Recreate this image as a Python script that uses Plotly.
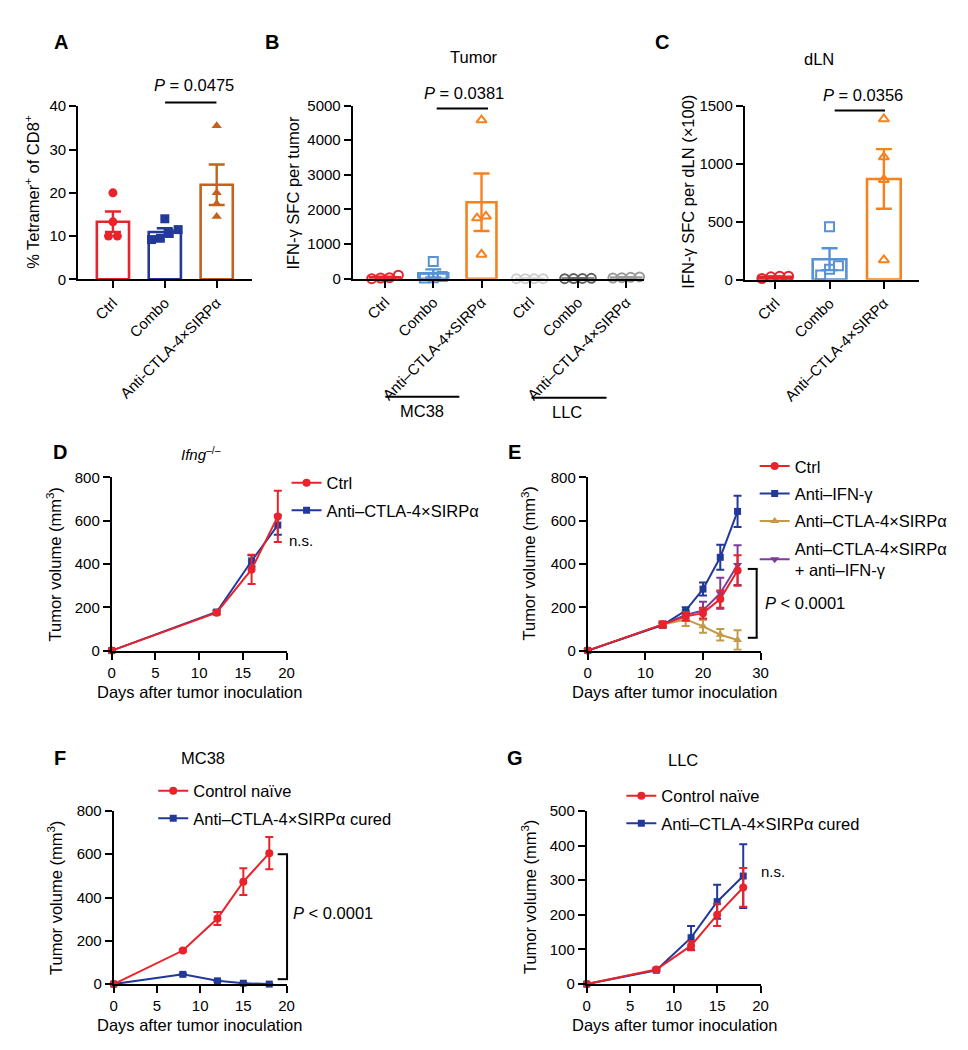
import numpy as np
import plotly.graph_objects as go

W, H = 968, 1050

# ---------------- data ----------------
a_categories = ["Ctrl", "Combo", "Anti-CTLA-4×SIRPα"]
a_ctrl = [20.0, 13.3, 10.0, 10.0]
a_combo = [14.0, 11.5, 10.6, 9.5, 9.2]
a_anti = [35.5, 20.0, 17.5, 14.5]

b_categories = ["Ctrl", "Combo", "Anti–CTLA-4×SIRPα", "Ctrl", "Combo", "Anti–CTLA-4×SIRPα"]
b_mc38_ctrl = [0, 100, 30, 20]
b_mc38_combo = [500, 60, 20, 30]
b_mc38_anti = [4580, 1800, 1750, 700]
b_llc_ctrl = [0, 0, 0, 0]
b_llc_combo = [10, 5, 0, 8]
b_llc_anti = [30, 50, 20, 40]

c_categories = ["Ctrl", "Combo", "Anti–CTLA-4×SIRPα"]
c_ctrl = [10, 30, 25, 30]
c_combo = [455, 120, 90, 40]
c_anti = [1384, 1056, 861, 170]

d_days = [0, 12, 16, 19]
d_ctrl_mean = [0, 175, 375, 620]
d_ctrl_sem = [0, 8, 68, 118]
d_anti_mean = [0, 178, 414, 580]
d_anti_sem = [0, 8, 26, 45]

e_days = [0, 13, 17, 20, 23, 26]
e_ctrl_mean = [0, 120, 158, 173, 238, 370]
e_ctrl_sem = [0, 15, 20, 25, 40, 70]
e_ifng_mean = [0, 118, 185, 284, 431, 643]
e_ifng_sem = [0, 10, 15, 30, 58, 72]
e_anti_mean = [0, 120, 144, 112, 73, 49]
e_anti_sem = [0, 10, 30, 30, 27, 45]
e_combo_mean = [0, 120, 165, 185, 265, 395]
e_combo_sem = [0, 10, 20, 40, 72, 92]

f_days = [0, 8, 12, 15, 18]
f_naive_mean = [0, 155, 303, 473, 605]
f_naive_sem = [0, 6, 30, 62, 74]
f_cured_mean = [0, 45, 15, 4, 0]
f_cured_sem = [0, 4, 3, 2, 1]

g_days = [0, 8, 12, 15, 18]
g_naive_mean = [0, 42, 111, 200, 279]
g_naive_sem = [0, 4, 13, 32, 56]
g_cured_mean = [0, 40, 134, 238, 312]
g_cured_sem = [0, 4, 34, 49, 92]

# ---------------- style ----------------
FONT = "Liberation Sans, Arial, Helvetica, sans-serif"
RED = "#e8232b"
NAVY = "#22399a"
BROWN = "#c4611f"
LBLUE = "#5592d6"
ORANGE = "#f5821f"
LGRAY = "#cfcfcf"
DGRAY = "#606060"
MGRAY = "#9a9a9a"
GOLD = "#c49a4a"
PURPLE = "#7d3c98"


def fx(px):
    return px / W


def fy(py):
    return 1 - py / H


# panel boxes in pixels: (x0, x1, ytop, ybottom)
BOX = {
    "A": (67, 243, 90.7, 266.7),
    "B": (345, 640, 90, 266),
    "C": (742, 918, 90, 267),
    "D": (101, 278, 468, 644),
    "E": (583, 758, 468, 644),
    "F": (103, 278, 807, 983),
    "G": (582, 758, 807, 983),
}
AX = {"A": "", "B": "2", "C": "3", "D": "4", "E": "5", "F": "6", "G": "7"}
XR = {"A": [-0.67, 2.68], "B": [-0.67, 5.37], "C": [-0.56, 2.64],
      "D": [0, 20], "E": [0, 30], "F": [0, 20], "G": [0, 20]}
YR = {"A": [0, 40], "B": [0, 5000], "C": [0, 1500],
      "D": [0, 800], "E": [0, 800], "F": [0, 800], "G": [0, 500]}


def spread(values, panel, d_px=9.0):
    x0, x1, yt, yb = BOX[panel]
    px_y = (yb - yt) / (YR[panel][1] - YR[panel][0])
    px_x = (x1 - x0) / (XR[panel][1] - XR[panel][0])
    vals = np.asarray(values, float)
    order = np.argsort(vals, kind="stable")
    offs = np.zeros(len(vals))
    clusters, cur = [], [order[0]]
    for i in order[1:]:
        if (vals[i] - vals[cur[-1]]) * px_y < d_px:
            cur.append(i)
        else:
            clusters.append(cur)
            cur = [i]
    clusters.append(cur)
    for cl in clusters:
        n = len(cl)
        for k, i in enumerate(cl):
            offs[i] = (k - (n - 1) / 2) * d_px / px_x
    return offs


fig = go.Figure()


def add_bar_group(panel, idx, pts, color, symbol, filled, width=0.62):
    ax = AX[panel]
    pts = np.asarray(pts, float)
    mean = pts.mean()
    sem = pts.std(ddof=1) / np.sqrt(len(pts))
    fig.add_trace(go.Bar(
        x=[idx], y=[mean], width=width,
        marker=dict(color="rgba(0,0,0,0)", line=dict(color=color, width=2.6)),
        error_y=dict(type="data", array=[sem], color=color, thickness=2.4, width=8),
        xaxis="x" + ax, yaxis="y" + ax, showlegend=False, hoverinfo="skip"))
    offs = spread(pts, panel)
    if filled:
        mk = dict(symbol=symbol, size=9, color=color)
    else:
        mk = dict(symbol=symbol + "-open", size=9, color=color, line=dict(color=color, width=2))
    fig.add_trace(go.Scatter(
        x=idx + offs, y=pts, mode="markers", marker=mk, cliponaxis=False,
        xaxis="x" + ax, yaxis="y" + ax, showlegend=False, hoverinfo="skip"))


# Panel A
for i, (pts, col, sym) in enumerate([(a_ctrl, RED, "circle"), (a_combo, NAVY, "square"),
                                     (a_anti, BROWN, "triangle-up")]):
    add_bar_group("A", i, pts, col, sym, True)

# Panel B
for i, (pts, col, sym) in enumerate([(b_mc38_ctrl, RED, "circle"), (b_mc38_combo, LBLUE, "square"),
                                     (b_mc38_anti, ORANGE, "triangle-up"), (b_llc_ctrl, LGRAY, "circle"),
                                     (b_llc_combo, DGRAY, "circle"), (b_llc_anti, MGRAY, "circle")]):
    add_bar_group("B", i, pts, col, sym, False)

# Panel C
for i, (pts, col, sym) in enumerate([(c_ctrl, RED, "circle"), (c_combo, LBLUE, "square"),
                                     (c_anti, ORANGE, "triangle-up")]):
    add_bar_group("C", i, pts, col, sym, False)


def add_line(panel, days, mean, sem, color, symbol, name, legend, rank, size=8):
    ax = AX[panel]
    fig.add_trace(go.Scatter(
        x=days, y=mean, name=name, mode="lines+markers",
        line=dict(color=color, width=2),
        marker=dict(symbol=symbol, size=size, color=color),
        error_y=dict(type="data", array=sem, color=color, thickness=2, width=4),
        xaxis="x" + ax, yaxis="y" + ax, legend=legend, legendrank=rank,
        legendgroup=legend + str(rank),
        cliponaxis=False, hoverinfo="skip"))


add_line("D", d_days, d_anti_mean, d_anti_sem, NAVY, "square", "Anti–CTLA-4×SIRPα", "legend", 2, 7)
add_line("D", d_days, d_ctrl_mean, d_ctrl_sem, RED, "circle", "Ctrl", "legend", 1)

add_line("E", e_days, e_combo_mean, e_combo_sem, PURPLE, "triangle-down",
         "Anti–CTLA-4×SIRPα<br>+ anti–IFN-γ", "legend2", 4)
add_line("E", e_days, e_anti_mean, e_anti_sem, GOLD, "triangle-up", "Anti–CTLA-4×SIRPα", "legend2", 3)
add_line("E", e_days, e_ifng_mean, e_ifng_sem, NAVY, "square", "Anti–IFN-γ", "legend2", 2, 7)
add_line("E", e_days, e_ctrl_mean, e_ctrl_sem, RED, "circle", "Ctrl", "legend2", 1)

add_line("F", f_days, f_cured_mean, f_cured_sem, NAVY, "square", "Anti–CTLA-4×SIRPα cured", "legend3", 2, 7)
add_line("F", f_days, f_naive_mean, f_naive_sem, RED, "circle", "Control naïve", "legend3", 1)

add_line("G", g_days, g_cured_mean, g_cured_sem, NAVY, "square", "Anti–CTLA-4×SIRPα cured", "legend4", 2, 7)
add_line("G", g_days, g_naive_mean, g_naive_sem, RED, "circle", "Control naïve", "legend4", 1)

# ---------------- axes ----------------
layout = dict(width=W, height=H, margin=dict(l=0, r=0, t=0, b=0),
              paper_bgcolor="white", plot_bgcolor="white", barmode="overlay",
              font=dict(family=FONT, color="black", size=15))


def base_axis(**kw):
    d = dict(showline=True, linecolor="black", linewidth=2, ticks="outside", ticklen=7,
             tickwidth=2, tickcolor="black", showgrid=False, zeroline=False,
             tickfont=dict(size=15, color="black", family=FONT), fixedrange=True)
    d.update(kw)
    return d


YDT = {"A": 10, "B": 1000, "C": 500, "D": 200, "E": 200, "F": 200, "G": 100}
XDT = {"D": 5, "E": 10, "F": 5, "G": 5}
CATS = {"A": a_categories, "B": b_categories, "C": c_categories}

for p, ax in AX.items():
    x0, x1, yt, yb = BOX[p]
    xk = "xaxis" + ax
    yk = "yaxis" + ax
    if p in CATS:
        xa = base_axis(domain=[fx(x0), fx(x1)], range=XR[p], anchor="y" + ax,
                       tickmode="array", tickvals=list(range(len(CATS[p]))), ticktext=CATS[p],
                       tickangle=-45, tickfont=dict(size=15, color="black", family=FONT))
    else:
        xa = base_axis(domain=[fx(x0), fx(x1)], range=XR[p], anchor="y" + ax,
                       tickmode="linear", tick0=0, dtick=XDT[p])
    ya = base_axis(domain=[fy(yb), fy(yt)], range=YR[p], anchor="x" + ax,
                   tickmode="linear", tick0=0, dtick=YDT[p])
    layout[xk] = xa
    layout[yk] = ya


def leg(x, y):
    return dict(x=fx(x), y=fy(y), xanchor="left", yanchor="top", bgcolor="rgba(0,0,0,0)",
                font=dict(size=16.5, color="black", family=FONT), itemwidth=30,
                traceorder="grouped", tracegroupgap=3,
                itemclick=False, itemdoubleclick=False)


layout["legend"] = leg(278, 456)
layout["legend2"] = leg(752, 439)
layout["legend3"] = leg(143, 769)
layout["legend4"] = leg(617, 774)

# ---------------- annotations & shapes ----------------
ann = []


def txt(x, y, s, size=16, xanchor="center", angle=0):
    ann.append(dict(x=fx(x), y=fy(y), xref="paper", yref="paper", text=s, showarrow=False,
                    xanchor=xanchor, yanchor="middle", textangle=angle,
                    font=dict(size=size, color="black", family=FONT)))


for lab, (x, y) in {"A": (50, 25), "B": (263, 25), "C": (658, 25), "D": (49, 442),
                    "E": (509, 442), "F": (49, 753), "G": (509, 753)}.items():
    txt(x, y, "<b>%s</b>" % lab, size=20)

txt(20, 178, "% Tetramer<sup>+</sup> of CD8<sup>+</sup>", size=16.5, angle=-90)
txt(285, 178, "IFN-γ SFC per tumor", size=16.5, angle=-90)
txt(685, 178, "IFN-γ SFC per dLN (×100)", size=16.5, angle=-90)
for x, y in [(43, 556), (523, 556), (43, 895), (523, 895)]:
    txt(x, y, "Tumor volume (mm<sup>3</sup>)", size=16.5, angle=-90)
for x, y in [(190, 686), (671, 686), (190, 1025), (671, 1025)]:
    txt(x, y, "Days after tumor inoculation", size=16.5)

txt(468, 41, "Tumor", size=16.5)
txt(817, 43, "dLN", size=16.5)
txt(193, 753, "MC38", size=16.5)
txt(679, 755, "LLC", size=16.5)
txt(191, 444, "<i>Ifng</i><sup>–/–</sup>", size=15)

txt(184, 69, "<i>P</i> = 0.0475", size=16.5)
txt(458, 77, "<i>P</i> = 0.0381", size=16.5)
txt(862, 79, "<i>P</i> = 0.0356", size=16.5)
txt(760, 596, "<i>P</i> < 0.0001", size=16.5, xanchor="left")
txt(283, 911, "<i>P</i> < 0.0001", size=16.5, xanchor="left")
txt(278, 532, "n.s.", size=15, xanchor="left")
txt(756, 869, "n.s.", size=15, xanchor="left")
txt(415, 400, "MC38", size=16.5)
txt(562, 401, "LLC", size=16.5)

shapes = []


def seg(x0, y0, x1, y1):
    shapes.append(dict(type="line", xref="paper", yref="paper", x0=fx(x0), y0=fy(y0),
                       x1=fx(x1), y1=fy(y1), line=dict(color="black", width=2)))


seg(155, 87, 207, 87)
seg(430, 93, 482, 93)
seg(833, 95, 884, 95)
seg(378, 386, 453, 386)
seg(526, 387, 602, 387)
# bracket E
seg(754, 561, 754, 631)
seg(745, 561, 755, 561)
seg(745, 631, 755, 631)
# bracket F
seg(278.5, 851, 278.5, 978)
seg(269, 851, 279.5, 851)
seg(269, 978, 279.5, 978)

layout["annotations"] = ann
layout["shapes"] = shapes
fig.update_layout(**layout)
fig.write_html("out.html")
